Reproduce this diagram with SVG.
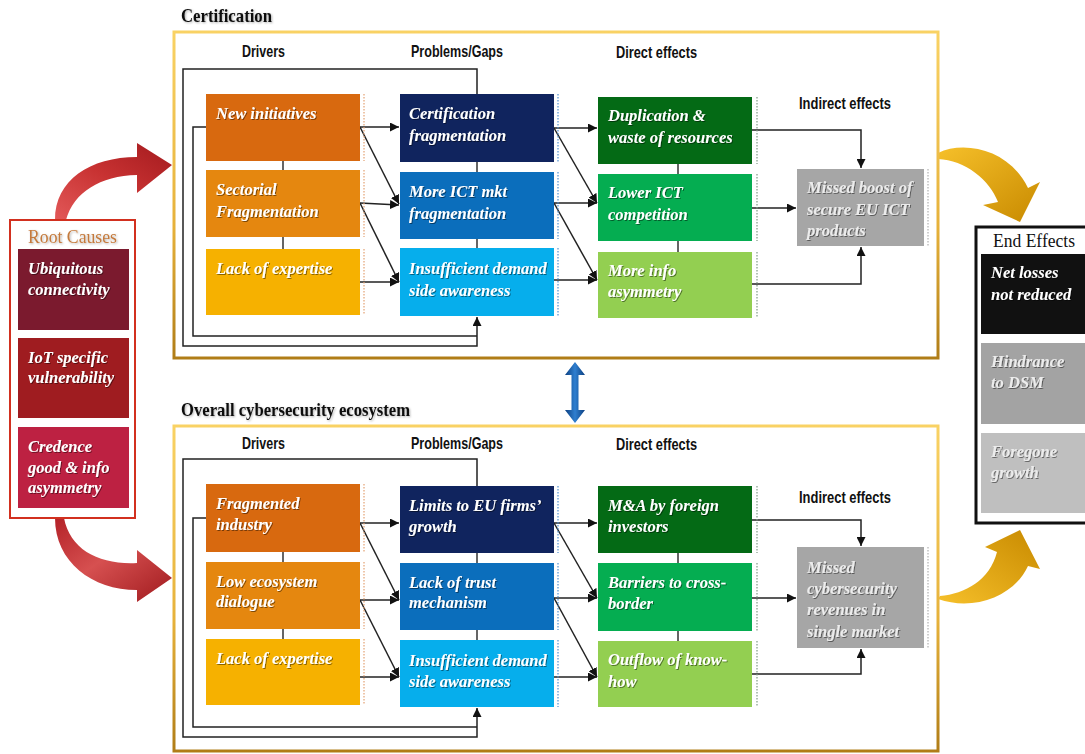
<svg xmlns="http://www.w3.org/2000/svg" width="1085" height="754" viewBox="0 0 1085 754">
<defs>
<style>
.bt{font-family:"Liberation Serif",serif;font-weight:bold;font-style:italic;font-size:16.5px;fill:#fff;filter:url(#ts)}
.gt{fill:#ececec}
.hd{font-family:"Liberation Sans",Arial,sans-serif;font-weight:bold;font-size:16.5px;fill:#111}
.ttl{font-family:"Liberation Serif",serif;font-weight:bold;font-size:19px;fill:#111;filter:url(#ts2)}
.cn{fill:none;stroke:#222;stroke-width:1.5}
.ar{marker-end:url(#ah)}
.vl{stroke:#333;stroke-width:1.5}
.dot{stroke-width:1.2;stroke-dasharray:1.5 1.5}
.cont{fill:#fff;stroke:url(#gold);stroke-width:3}
</style>
<filter id="ts" x="-10%" y="-30%" width="120%" height="160%"><feDropShadow dx="1" dy="1" stdDeviation="0.6" flood-color="#000" flood-opacity="0.45"/></filter>
<filter id="ts2" x="-10%" y="-30%" width="120%" height="160%"><feDropShadow dx="1" dy="1" stdDeviation="0.8" flood-color="#000" flood-opacity="0.3"/></filter>
<marker id="ah" viewBox="0 0 10 10" refX="10" refY="5" markerWidth="6" markerHeight="6" orient="auto"><path d="M0,0 L10,5 L0,10 z" fill="#111"/></marker>
<linearGradient id="gold" x1="0" y1="0" x2="0" y2="1"><stop offset="0" stop-color="#f9d264"/><stop offset="0.6" stop-color="#e6b13a"/><stop offset="1" stop-color="#b07d17"/></linearGradient>
<linearGradient id="redA" x1="0" y1="1" x2="1" y2="0"><stop offset="0" stop-color="#e25858"/><stop offset="0.5" stop-color="#c83232"/><stop offset="1" stop-color="#a31a1e"/></linearGradient>
<linearGradient id="redB" x1="0" y1="0" x2="1" y2="1"><stop offset="0" stop-color="#b42228"/><stop offset="0.45" stop-color="#d65050"/><stop offset="1" stop-color="#a01a1e"/></linearGradient>
<linearGradient id="goldA" x1="0" y1="0" x2="1" y2="1"><stop offset="0" stop-color="#f6c02a"/><stop offset="1" stop-color="#c88a00"/></linearGradient>
<linearGradient id="goldB" x1="0" y1="1" x2="1" y2="0"><stop offset="0" stop-color="#f6c02a"/><stop offset="1" stop-color="#c88a00"/></linearGradient>
<linearGradient id="blue" x1="0" y1="0" x2="1" y2="0"><stop offset="0" stop-color="#0c3f80"/><stop offset="0.5" stop-color="#2f7fd0"/><stop offset="1" stop-color="#0c3f80"/></linearGradient>
</defs>
<rect width="1085" height="754" fill="#fff"/>

<!-- Big arrows -->
<g id="bigarrows">
<path d="M55,220 C55,180 90,157 137,157 L137,143 L172,165 L137,193 L137,175 C100,176 74,192 66,220 Z" fill="url(#redA)"/>
<path d="M55,518 C55,562 92,590 137,590 L137,602 L172,578 L137,550 L137,563 C100,565 70,550 64,518 Z" fill="url(#redB)"/>
<path d="M938,153 C965,140 1010,150 1028,188 L1040,182 L1020,222 L983,205 L998,202 C990,180 965,160 938,159 Z" fill="url(#goldA)"/>
<path d="M940,596 C965,594 990,580 997,552 L985,547 L1020,530 L1040,569 L1028,566 C1015,595 975,612 938,599 Z" fill="url(#goldB)"/>
<path d="M575,362 L585,375 L578.5,375 L578.5,410 L585,410 L575,423 L565,410 L571.5,410 L571.5,375 L565,375 Z" fill="url(#blue)"/>
</g>

<!-- Containers -->
<g id="cert-container">
<rect class="cont" x="174" y="32" width="764" height="326"/>
<text class="ttl" x="181" y="22" textLength="91" lengthAdjust="spacingAndGlyphs">Certification</text>
<text class="hd" x="242" y="57" textLength="43" lengthAdjust="spacingAndGlyphs">Drivers</text>
<text class="hd" x="411" y="57" textLength="92" lengthAdjust="spacingAndGlyphs">Problems/Gaps</text>
<text class="hd" x="616" y="58" textLength="81" lengthAdjust="spacingAndGlyphs">Direct effects</text>
<text class="hd" x="799" y="109" textLength="92" lengthAdjust="spacingAndGlyphs">Indirect effects</text>
</g>
<g id="eco-container">
<rect class="cont" x="174" y="426" width="764" height="325"/>
<text class="ttl" x="181" y="416" textLength="229" lengthAdjust="spacingAndGlyphs">Overall cybersecurity ecosystem</text>
<text class="hd" x="242" y="449" textLength="43" lengthAdjust="spacingAndGlyphs">Drivers</text>
<text class="hd" x="411" y="449" textLength="92" lengthAdjust="spacingAndGlyphs">Problems/Gaps</text>
<text class="hd" x="616" y="450" textLength="81" lengthAdjust="spacingAndGlyphs">Direct effects</text>
<text class="hd" x="799" y="503" textLength="92" lengthAdjust="spacingAndGlyphs">Indirect effects</text>
</g>

<!-- Connectors -->
<g id="connectors">
<path class="cn ar" d="M477,94 V69 H183 V346 H477 V317"/>
<path class="cn" d="M206,127 H193 V336 H477"/>
<path class="vl" d="M283,161 V170 M283,237 V249 M477,162 V172 M477,239 V248 M678,164 V174 M678,241 V252"/>
<path class="cn ar" d="M360,127 H399"/>
<path class="cn ar" d="M360,127 L399,204"/>
<path class="cn ar" d="M360,203 L399,205"/>
<path class="cn ar" d="M360,203 L399,282"/>
<path class="cn ar" d="M360,282 H399"/>
<path class="cn ar" d="M554,128 H597"/>
<path class="cn ar" d="M554,128 L597,203"/>
<path class="cn ar" d="M554,203 H597"/>
<path class="cn ar" d="M554,203 L597,280"/>
<path class="cn ar" d="M554,280 H597"/>
<path class="cn ar" d="M752,130 H861 V168"/>
<path class="cn ar" d="M752,208 H796"/>
<path class="cn ar" d="M752,284 H861 V247"/>

<path class="cn ar" d="M477,486 V459 H183 V737 H477 V708"/>
<path class="cn" d="M206,518 H193 V727 H477"/>
<path class="vl" d="M283,552 V562 M283,629 V639 M477,553 V563 M477,630 V640 M678,553 V563 M678,631 V641"/>
<path class="cn ar" d="M360,523 H399"/>
<path class="cn ar" d="M360,523 L399,600"/>
<path class="cn ar" d="M360,600 H399"/>
<path class="cn ar" d="M360,600 L399,677"/>
<path class="cn ar" d="M360,677 H399"/>
<path class="cn ar" d="M554,523 H597"/>
<path class="cn ar" d="M554,523 L597,598"/>
<path class="cn ar" d="M554,598 H597"/>
<path class="cn ar" d="M554,598 L597,677"/>
<path class="cn ar" d="M554,677 H597"/>
<path class="cn ar" d="M752,520 H861 V546"/>
<path class="cn ar" d="M752,598 H796"/>
<path class="cn ar" d="M752,674 H861 V649"/>

<path class="vl" d="M73,330 V338 M73,418 V427"/>

<path class="dot" stroke="#e3a172" d="M364,94 V161 M364,170 V237 M364,249 V315 M364,484 V552 M364,562 V629 M364,639 V705"/>
<path class="dot" stroke="#4f8fd0" d="M558,94 V162 M558,172 V239 M558,248 V316 M558,486 V553 M558,563 V630 M558,640 V707"/>
<path class="dot" stroke="#7f9a86" d="M757,97 V164 M757,174 V241 M757,252 V318 M757,486 V553 M757,563 V631 M757,641 V707"/>
<path class="dot" stroke="#b0b0b0" d="M928,169 V246 M928,547 V648"/>
<path class="dot" stroke="#555" d="M132,249 V508"/>
</g>

<!-- Root causes -->
<g id="root-causes">
<rect x="10" y="220" width="125" height="298" fill="#fff" stroke="#d2301f" stroke-width="2"/>
<text x="28" y="243" font-family="'Liberation Serif',serif" font-size="19" fill="#c47a3c" filter="url(#ts2)" textLength="89" lengthAdjust="spacingAndGlyphs">Root Causes</text>
</g>
<g id="rc1"><rect x="18" y="249" width="111" height="81" fill="#7b1a2e"/><text class="bt" x="28" y="274">Ubiquitous<tspan x="28" y="295">connectivity</tspan></text></g>
<g id="rc2"><rect x="18" y="338" width="111" height="80" fill="#9f1c20"/><text class="bt" x="28" y="363">IoT specific<tspan x="28" y="383">vulnerability</tspan></text></g>
<g id="rc3"><rect x="18" y="427" width="111" height="81" fill="#bd2142"/><text class="bt" x="28" y="452">Credence<tspan x="28" y="473">good &amp; info</tspan><tspan x="28" y="493">asymmetry</tspan></text></g>

<!-- Certification nodes -->
<g id="c-d1"><rect x="206" y="94" width="154" height="67" fill="#d8690f"/><text class="bt" x="216" y="119">New initiatives</text></g>
<g id="c-d2"><rect x="206" y="170" width="154" height="67" fill="#e5870f"/><text class="bt" x="216" y="195">Sectorial<tspan x="216" y="217">Fragmentation</tspan></text></g>
<g id="c-d3"><rect x="206" y="249" width="154" height="66" fill="#f6b100"/><text class="bt" x="216" y="274">Lack of expertise</text></g>
<g id="c-p1"><rect x="400" y="94" width="154" height="68" fill="#10245e"/><text class="bt" x="409" y="119">Certification<tspan x="409" y="141">fragmentation</tspan></text></g>
<g id="c-p2"><rect x="400" y="172" width="154" height="67" fill="#0b6ebc"/><text class="bt" x="409" y="197">More ICT mkt<tspan x="409" y="219">fragmentation</tspan></text></g>
<g id="c-p3"><rect x="400" y="248" width="154" height="68" fill="#06aeec"/><text class="bt" x="409" y="274">Insufficient demand<tspan x="409" y="296">side awareness</tspan></text></g>
<g id="c-e1"><rect x="598" y="97" width="154" height="67" fill="#046a15"/><text class="bt" x="608" y="121">Duplication &amp;<tspan x="608" y="143">waste of resources</tspan></text></g>
<g id="c-e2"><rect x="598" y="174" width="154" height="67" fill="#05ad51"/><text class="bt" x="608" y="198">Lower ICT<tspan x="608" y="220">competition</tspan></text></g>
<g id="c-e3"><rect x="598" y="252" width="154" height="66" fill="#93cf51"/><text class="bt" x="608" y="276">More info<tspan x="608" y="297">asymmetry</tspan></text></g>
<g id="c-i1"><rect x="797" y="169" width="127" height="77" fill="#a6a6a6"/><text class="bt gt" x="807" y="193">Missed boost of<tspan x="807" y="215">secure EU ICT</tspan><tspan x="807" y="236">products</tspan></text></g>

<!-- Ecosystem nodes -->
<g id="e-d1"><rect x="206" y="484" width="154" height="68" fill="#d8690f"/><text class="bt" x="216" y="509">Fragmented<tspan x="216" y="530">industry</tspan></text></g>
<g id="e-d2"><rect x="206" y="562" width="154" height="67" fill="#e5870f"/><text class="bt" x="216" y="587">Low ecosystem<tspan x="216" y="607">dialogue</tspan></text></g>
<g id="e-d3"><rect x="206" y="639" width="154" height="66" fill="#f6b100"/><text class="bt" x="216" y="664">Lack of expertise</text></g>
<g id="e-p1"><rect x="400" y="486" width="154" height="67" fill="#10245e"/><text class="bt" x="409" y="511">Limits to EU firms’<tspan x="409" y="532">growth</tspan></text></g>
<g id="e-p2"><rect x="400" y="563" width="154" height="67" fill="#0b6ebc"/><text class="bt" x="409" y="588">Lack of trust<tspan x="409" y="608">mechanism</tspan></text></g>
<g id="e-p3"><rect x="400" y="640" width="154" height="67" fill="#06aeec"/><text class="bt" x="409" y="666">Insufficient demand<tspan x="409" y="687">side awareness</tspan></text></g>
<g id="e-e1"><rect x="598" y="486" width="154" height="67" fill="#046a15"/><text class="bt" x="608" y="511">M&amp;A by foreign<tspan x="608" y="532">investors</tspan></text></g>
<g id="e-e2"><rect x="598" y="563" width="154" height="68" fill="#05ad51"/><text class="bt" x="608" y="588">Barriers to cross-<tspan x="608" y="609">border</tspan></text></g>
<g id="e-e3"><rect x="598" y="641" width="154" height="66" fill="#93cf51"/><text class="bt" x="608" y="665">Outflow of know-<tspan x="608" y="687">how</tspan></text></g>
<g id="e-i1"><rect x="797" y="547" width="127" height="101" fill="#a6a6a6"/><text class="bt gt" x="807" y="573">Missed<tspan x="807" y="594">cybersecurity</tspan><tspan x="807" y="615">revenues in</tspan><tspan x="807" y="637">single market</tspan></text></g>

<!-- End effects -->
<g id="end-effects">
<rect x="976" y="227" width="120" height="296" fill="#fff" stroke="#111" stroke-width="3"/>
<text x="993" y="247" font-family="'Liberation Serif',serif" font-size="19" fill="#111" textLength="82" lengthAdjust="spacingAndGlyphs">End Effects</text>
</g>
<g id="ee1"><rect x="981" y="254" width="110" height="80" fill="#111"/><text class="bt" x="991" y="278">Net losses<tspan x="991" y="300">not reduced</tspan></text></g>
<g id="ee2"><rect x="981" y="343" width="110" height="81" fill="#a3a3a3"/><text class="bt gt" x="991" y="367">Hindrance<tspan x="991" y="388">to DSM</tspan></text></g>
<g id="ee3"><rect x="981" y="433" width="110" height="80" fill="#bfbfbf"/><text class="bt gt" x="991" y="457">Foregone<tspan x="991" y="478">growth</tspan></text></g>
</svg>
